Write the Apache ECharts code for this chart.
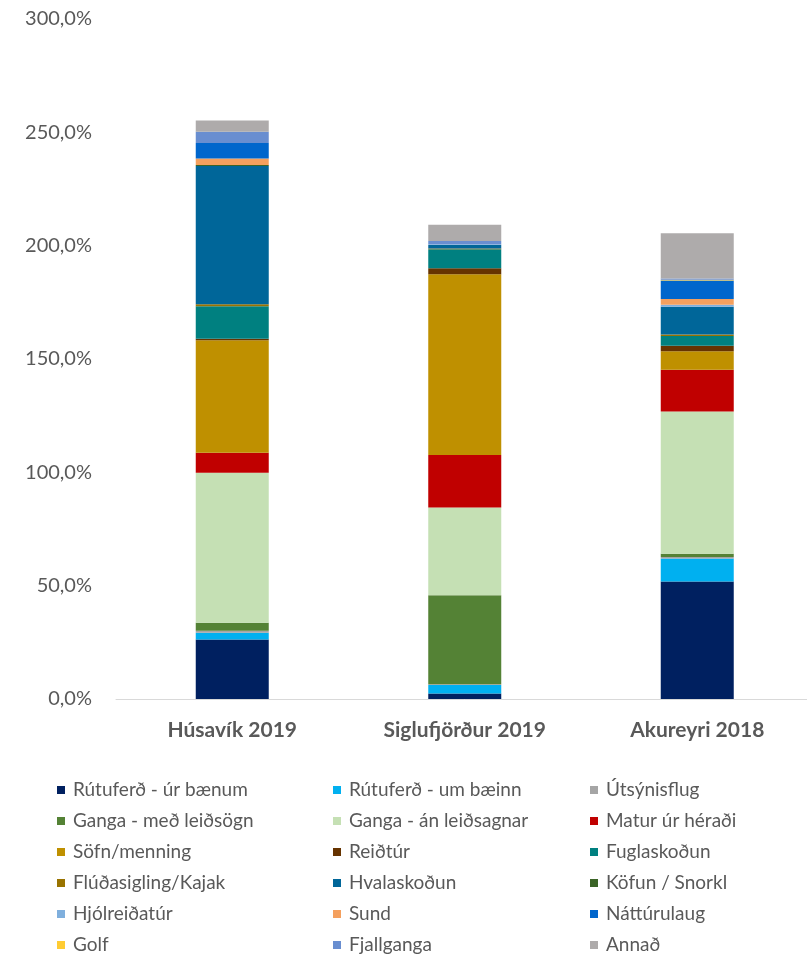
<!DOCTYPE html>
<html>
<head>
<meta charset="utf-8">
<script src="https://cdn.jsdelivr.net/npm/echarts@6/dist/echarts.min.js"></script>
<style>
html,body{margin:0;padding:0;background:#fff;overflow:hidden;}
#main{width:816px;height:954px;}
</style>
</head>
<body>
<div id="main"></div>
<script>
var categories = ['Húsavík 2019', 'Siglufjörður 2019', 'Akureyri 2018'];
var yTicks = [0, 50, 100, 150, 200, 250, 300];

var names = ['Rútuferð - úr bænum', 'Rútuferð - um bæinn', 'Útsýnisflug',
	'Ganga - með leiðsögn', 'Ganga - án leiðsagnar', 'Matur úr héraði',
	'Söfn/menning', 'Reiðtúr', 'Fuglaskoðun',
	'Flúðasigling/Kajak', 'Hvalaskoðun', 'Köfun / Snorkl',
	'Hjólreiðatúr', 'Sund', 'Náttúrulaug',
	'Golf', 'Fjallganga', 'Annað'];

var rutuUr = [26.3, 2.4, 51.8];
var rutuUm = [2.9, 3.8, 10.2];
var utsynisflug = [0.9, 0.3, 0.6];
var gangaMed = [3.5, 39.3, 1.5];
var gangaAn = [66.2, 38.7, 62.7];
var matur = [8.8, 23.2, 18.5];
var sofn = [49.7, 79.7, 8.1];
var reidtur = [0.6, 2.6, 2.5];
var fugla = [14.4, 8.4, 4.3];
var fluda = [0.9, 0.4, 0.6];
var hvala = [60.9, 1.5, 12.2];
var kofun = [0.5, 0, 0];
var hjol = [0, 0.3, 0.9];
var sund = [2.9, 0, 2.6];
var natturulaug = [6.8, 0, 8.1];
var golf = [0, 0, 0.4];
var fjallganga = [5.0, 1.5, 0.5];
var annad = [4.9, 7.1, 20.0];

var values = [rutuUr, rutuUm, utsynisflug, gangaMed, gangaAn, matur, sofn, reidtur, fugla,
	fluda, hvala, kofun, hjol, sund, natturulaug, golf, fjallganga, annad];

var colors = ['#002060', '#00B0F0', '#A5A5A5', '#548235', '#C5E0B4', '#C00000',
	'#BF9000', '#663300', '#008080', '#997300', '#006699', '#3B6427',
	'#7FAFDD', '#F4A05E', '#0066CC', '#FFCC33', '#698ED0', '#AEABAB'];

var font = "Lato, 'Liberation Sans', sans-serif";
var textColor = '#595959';

var series = [];
for (var i = 0; i < names.length; i++) {
	series.push({
		name: names[i],
		type: 'bar',
		stack: 'total',
		barWidth: 73,
		itemStyle: { color: colors[i] },
		data: values[i]
	});
}

// three legend columns, items taken row by row
var legends = [];
var colLeft = [57, 333, 590];
for (var c = 0; c < 3; c++) {
	var col = [];
	for (var r = c; r < names.length; r += 3) col.push(names[r]);
	legends.push({
		data: col,
		orient: 'vertical',
		left: colLeft[c],
		top: 780,
		height: 200,
		padding: 0,
		itemWidth: 8,
		itemHeight: 8,
		itemGap: 11,
		icon: 'rect',
		textStyle: { fontFamily: font, fontSize: 19, color: textColor, lineHeight: 20, padding: [0, 0, 0, 3] }
	});
}

var myChart = echarts.init(document.getElementById('main'));
var option = {
	animation: false,
	color: colors,
	legend: legends,
	grid: { left: 116, top: 19, width: 697.5, height: 680, containLabel: false },
	xAxis: {
		type: 'category',
		data: categories,
		axisLine: { lineStyle: { color: '#D9D9D9', width: 1 } },
		axisTick: { show: false },
		axisLabel: { fontFamily: font, fontSize: 21, fontWeight: 'bold', color: textColor, margin: 21 }
	},
	yAxis: {
		type: 'value',
		min: yTicks[0],
		max: yTicks[yTicks.length - 1],
		interval: 50,
		splitLine: { show: false },
		axisLine: { show: false },
		axisTick: { show: false },
		axisLabel: {
			fontFamily: font, fontSize: 20, color: textColor, margin: 24,
			formatter: function (v) { return v.toFixed(1).replace('.', ',') + '%'; }
		}
	},
	series: series
};
myChart.setOption(option);
</script>
</body>
</html>
